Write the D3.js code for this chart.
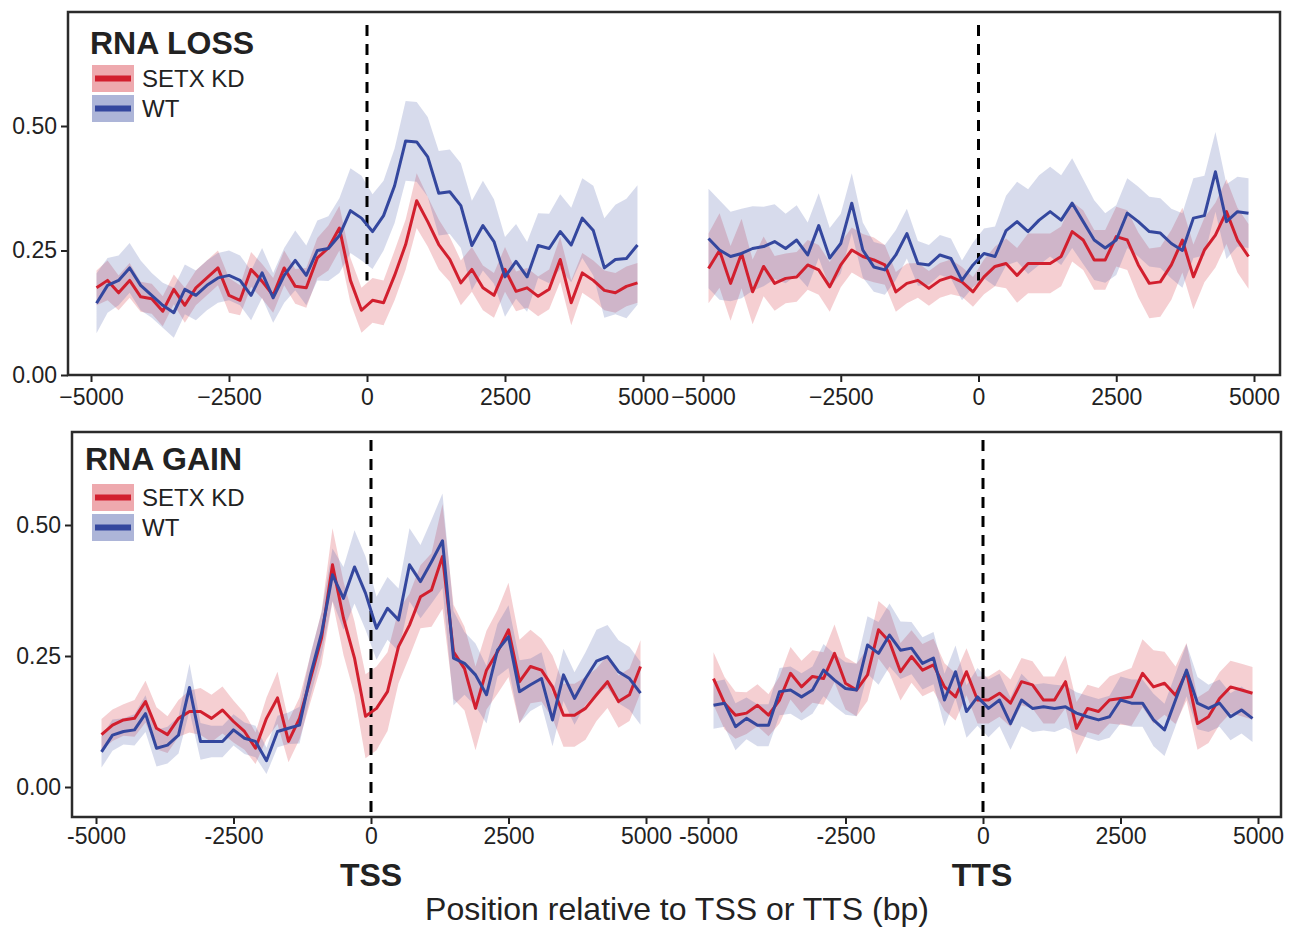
<!DOCTYPE html>
<html>
<head>
<meta charset="utf-8">
<script src="https://cdn.jsdelivr.net/npm/d3@7"></script>
<style>
  body { margin: 0; background: #fff; }
  svg { font-family: "Liberation Sans", Arial, sans-serif; }
</style>
</head>
<body>
<script>
// bin centres (bp) shared by every profile
const positions = [-4900, -4700, -4500, -4300, -4100, -3900, -3700, -3500, -3300, -3100,
  -2900, -2700, -2500, -2300, -2100, -1900, -1700, -1500, -1300, -1100,
  -900, -700, -500, -300, -100, 100, 300, 500, 700, 900,
  1100, 1300, 1500, 1700, 1900, 2100, 2300, 2500, 2700, 2900,
  3100, 3300, 3500, 3700, 3900, 4100, 4300, 4500, 4700, 4900];
const xTicks = [-5000, -2500, 0, 2500, 5000];
const yTicks = [0, 0.25, 0.5];
const seriesNames = ["SETX KD", "WT"];

// RNA LOSS, around TSS
const lossTssKd = [0.175, 0.19, 0.165, 0.19, 0.157, 0.153, 0.128, 0.172, 0.14, 0.175,
  0.195, 0.215, 0.16, 0.15, 0.212, 0.188, 0.16, 0.215, 0.178, 0.175,
  0.235, 0.255, 0.295, 0.19, 0.13, 0.15, 0.145, 0.2, 0.262, 0.35,
  0.308, 0.262, 0.232, 0.185, 0.212, 0.175, 0.16, 0.212, 0.168, 0.175,
  0.158, 0.172, 0.232, 0.145, 0.205, 0.19, 0.17, 0.165, 0.178, 0.185];
const lossTssKdErr = [0.035, 0.04, 0.035, 0.035, 0.03, 0.03, 0.03, 0.03, 0.035, 0.035,
  0.035, 0.035, 0.035, 0.03, 0.035, 0.035, 0.035, 0.035, 0.035, 0.04,
  0.04, 0.045, 0.045, 0.045, 0.045, 0.045, 0.045, 0.05, 0.05, 0.055,
  0.05, 0.05, 0.045, 0.045, 0.045, 0.045, 0.045, 0.045, 0.04, 0.04,
  0.04, 0.04, 0.045, 0.045, 0.04, 0.04, 0.04, 0.04, 0.04, 0.04];
const lossTssWt = [0.144, 0.18, 0.19, 0.215, 0.18, 0.16, 0.14, 0.125, 0.172, 0.16,
  0.18, 0.195, 0.2, 0.19, 0.16, 0.205, 0.155, 0.2, 0.23, 0.2,
  0.25, 0.254, 0.28, 0.33, 0.315, 0.288, 0.32, 0.38, 0.47, 0.468,
  0.438, 0.365, 0.368, 0.34, 0.26, 0.3, 0.268, 0.197, 0.228, 0.197,
  0.26, 0.254, 0.288, 0.261, 0.315, 0.29, 0.215, 0.232, 0.234, 0.261];
const lossTssWtErr = [0.06, 0.055, 0.05, 0.05, 0.05, 0.045, 0.045, 0.05, 0.05, 0.05,
  0.05, 0.05, 0.05, 0.05, 0.05, 0.05, 0.05, 0.055, 0.06, 0.06,
  0.06, 0.065, 0.075, 0.085, 0.085, 0.075, 0.07, 0.075, 0.08, 0.08,
  0.08, 0.085, 0.085, 0.085, 0.09, 0.09, 0.085, 0.08, 0.075, 0.07,
  0.065, 0.07, 0.075, 0.075, 0.08, 0.09, 0.1, 0.11, 0.12, 0.12];

// RNA LOSS, around TTS
const lossTtsKd = [0.214, 0.25, 0.184, 0.244, 0.167, 0.218, 0.184, 0.194, 0.197, 0.221,
  0.211, 0.177, 0.221, 0.251, 0.238, 0.231, 0.221, 0.167, 0.184, 0.19,
  0.174, 0.19, 0.197, 0.187, 0.167, 0.197, 0.218, 0.224, 0.2, 0.224,
  0.224, 0.224, 0.238, 0.288, 0.271, 0.231, 0.231, 0.278, 0.271, 0.221,
  0.184, 0.187, 0.221, 0.271, 0.197, 0.251, 0.281, 0.328, 0.271, 0.238];
const lossTtsKdErr = [0.07, 0.075, 0.075, 0.07, 0.065, 0.06, 0.055, 0.05, 0.05, 0.05,
  0.05, 0.05, 0.045, 0.045, 0.045, 0.045, 0.04, 0.04, 0.04, 0.035,
  0.035, 0.035, 0.035, 0.03, 0.03, 0.035, 0.04, 0.05, 0.055, 0.06,
  0.06, 0.06, 0.06, 0.06, 0.06, 0.06, 0.06, 0.06, 0.06, 0.065,
  0.07, 0.07, 0.07, 0.065, 0.065, 0.065, 0.065, 0.065, 0.065, 0.065];
const lossTtsWt = [0.274, 0.251, 0.238, 0.244, 0.254, 0.258, 0.268, 0.254, 0.271, 0.241,
  0.3, 0.235, 0.264, 0.345, 0.251, 0.217, 0.211, 0.241, 0.284, 0.224,
  0.221, 0.241, 0.234, 0.19, 0.221, 0.244, 0.238, 0.29, 0.308, 0.288,
  0.311, 0.328, 0.311, 0.345, 0.308, 0.271, 0.255, 0.271, 0.325, 0.308,
  0.288, 0.285, 0.264, 0.25, 0.315, 0.32, 0.408, 0.308, 0.328, 0.325];
const lossTtsWtErr = [0.1, 0.1, 0.09, 0.09, 0.085, 0.08, 0.075, 0.07, 0.07, 0.065,
  0.065, 0.06, 0.06, 0.06, 0.055, 0.05, 0.05, 0.05, 0.05, 0.045,
  0.04, 0.04, 0.04, 0.04, 0.045, 0.05, 0.06, 0.07, 0.08, 0.085,
  0.09, 0.09, 0.09, 0.09, 0.085, 0.08, 0.07, 0.07, 0.07, 0.07,
  0.07, 0.07, 0.07, 0.075, 0.08, 0.08, 0.08, 0.075, 0.07, 0.07];

// RNA GAIN, around TSS
const gainTssKd = [0.1, 0.118, 0.128, 0.131, 0.163, 0.112, 0.1, 0.131, 0.144, 0.144,
  0.131, 0.147, 0.125, 0.106, 0.074, 0.131, 0.17, 0.087, 0.131, 0.207,
  0.284, 0.424, 0.322, 0.246, 0.135, 0.15, 0.182, 0.268, 0.309, 0.363,
  0.376, 0.44, 0.258, 0.226, 0.15, 0.223, 0.258, 0.3, 0.201, 0.23,
  0.223, 0.191, 0.137, 0.137, 0.15, 0.176, 0.201, 0.163, 0.176, 0.23];
const gainTssKdErr = [0.03, 0.03, 0.03, 0.035, 0.04, 0.04, 0.035, 0.035, 0.04, 0.045,
  0.045, 0.045, 0.04, 0.035, 0.03, 0.04, 0.05, 0.04, 0.04, 0.045,
  0.05, 0.07, 0.07, 0.07, 0.08, 0.08, 0.075, 0.07, 0.06, 0.06,
  0.07, 0.1, 0.09, 0.08, 0.08, 0.075, 0.08, 0.09, 0.08, 0.07,
  0.06, 0.06, 0.06, 0.06, 0.06, 0.05, 0.05, 0.05, 0.05, 0.05];
const gainTssWt = [0.067, 0.099, 0.106, 0.109, 0.14, 0.074, 0.08, 0.099, 0.19, 0.087,
  0.087, 0.087, 0.109, 0.093, 0.087, 0.05, 0.106, 0.112, 0.118, 0.214,
  0.293, 0.405, 0.36, 0.42, 0.37, 0.303, 0.341, 0.319, 0.424, 0.392,
  0.43, 0.47, 0.246, 0.236, 0.214, 0.176, 0.261, 0.287, 0.182, 0.195,
  0.207, 0.128, 0.214, 0.169, 0.207, 0.24, 0.249, 0.22, 0.207, 0.179];
const gainTssWtErr = [0.03, 0.03, 0.025, 0.03, 0.035, 0.035, 0.035, 0.035, 0.045, 0.035,
  0.03, 0.03, 0.03, 0.03, 0.03, 0.025, 0.03, 0.03, 0.035, 0.04,
  0.04, 0.05, 0.06, 0.07, 0.07, 0.06, 0.06, 0.06, 0.07, 0.07,
  0.08, 0.09, 0.09, 0.06, 0.06, 0.055, 0.05, 0.06, 0.06, 0.05,
  0.05, 0.05, 0.05, 0.05, 0.05, 0.06, 0.06, 0.06, 0.06, 0.06];

// RNA GAIN, around TTS
const gainTtsKd = [0.207, 0.16, 0.137, 0.141, 0.156, 0.137, 0.166, 0.217, 0.191, 0.211,
  0.207, 0.255, 0.198, 0.185, 0.214, 0.3, 0.277, 0.22, 0.249, 0.223,
  0.233, 0.191, 0.172, 0.22, 0.166, 0.166, 0.179, 0.16, 0.201, 0.195,
  0.166, 0.166, 0.201, 0.112, 0.15, 0.144, 0.166, 0.169, 0.172, 0.217,
  0.191, 0.198, 0.175, 0.22, 0.121, 0.134, 0.169, 0.191, 0.185, 0.179];
const gainTtsKdErr = [0.05, 0.05, 0.045, 0.04, 0.04, 0.04, 0.045, 0.05, 0.05, 0.05,
  0.05, 0.055, 0.05, 0.05, 0.05, 0.055, 0.06, 0.055, 0.05, 0.05,
  0.05, 0.045, 0.045, 0.045, 0.045, 0.045, 0.045, 0.045, 0.045, 0.045,
  0.045, 0.045, 0.05, 0.05, 0.045, 0.045, 0.045, 0.05, 0.055, 0.065,
  0.07, 0.06, 0.055, 0.055, 0.05, 0.05, 0.05, 0.05, 0.05, 0.05];
const gainTtsWt = [0.156, 0.16, 0.115, 0.131, 0.118, 0.118, 0.182, 0.185, 0.172, 0.185,
  0.223, 0.204, 0.188, 0.185, 0.271, 0.255, 0.29, 0.261, 0.265, 0.236,
  0.246, 0.166, 0.22, 0.144, 0.172, 0.15, 0.166, 0.121, 0.166, 0.15,
  0.153, 0.15, 0.153, 0.141, 0.134, 0.128, 0.134, 0.166, 0.16, 0.16,
  0.128, 0.109, 0.166, 0.223, 0.16, 0.15, 0.16, 0.134, 0.147, 0.131];
const gainTtsWtErr = [0.045, 0.045, 0.045, 0.04, 0.04, 0.04, 0.045, 0.045, 0.045, 0.045,
  0.05, 0.05, 0.05, 0.05, 0.055, 0.06, 0.06, 0.055, 0.05, 0.05,
  0.05, 0.05, 0.05, 0.05, 0.055, 0.055, 0.05, 0.05, 0.05, 0.045,
  0.045, 0.045, 0.04, 0.04, 0.04, 0.04, 0.04, 0.045, 0.045, 0.045,
  0.05, 0.05, 0.05, 0.05, 0.05, 0.045, 0.045, 0.045, 0.045, 0.045];

const W = 1299, H = 929;
const lineCol = ["#d21f2e", "#34479e"];
const bandCol = ["#d9404c", "#4a5aa8"];
const ink = "#222";

const svg = d3.select("body").append("svg")
    .attr("width", W)
    .attr("height", H);

//panel layout, the data arrays are only referenced here
const panels = [
  { title: "RNA LOSS", left: 68, right: 1280, top: 12, bottom: 375,
    yRange: [375, 126], tss: [91, 643], tts: [703, 1254], dashTop: 25, dashEnd: 0.19,
    minus: "\u2212", titleX: 90, titleY: 54, legY: 65, labPad: 7,
    segs: [[lossTssKd, lossTssKdErr, lossTssWt, lossTssWtErr],
           [lossTtsKd, lossTtsKdErr, lossTtsWt, lossTtsWtErr]] },
  { title: "RNA GAIN", left: 72, right: 1281, top: 432, bottom: 817,
    yRange: [787, 525], tss: [96, 646], tts: [708, 1258], dashTop: 440, dashEnd: null,
    minus: "-", titleX: 85, titleY: 470, legY: 484, labPad: 4,
    segs: [[gainTssKd, gainTssKdErr, gainTssWt, gainTssWtErr],
           [gainTtsKd, gainTtsKdErr, gainTtsWt, gainTtsWtErr]] }
];

panels.forEach(function (p) {
  const g = svg.append("g");
  const y = d3.scaleLinear().domain([0, 0.5]).range(p.yRange);
  const xs = [d3.scaleLinear().domain([-5000, 5000]).range(p.tss),
              d3.scaleLinear().domain([-5000, 5000]).range(p.tts)];

  xs.forEach(function (x, si) {
    const seg = p.segs[si];
    const series = [0, 1].map(function (k) {
      return positions.map(function (bp, i) {
        return { bp: bp, v: seg[2 * k][i], e: seg[2 * k + 1][i] };
      });
    });
    const area = d3.area()
        .x(function (d) { return x(d.bp); })
        .y0(function (d) { return y(d.v - d.e); })
        .y1(function (d) { return y(d.v + d.e); });
    const line = d3.line()
        .x(function (d) { return x(d.bp); })
        .y(function (d) { return y(d.v); });

    g.selectAll(null).data(series).enter().append("path")
        .attr("d", area)
        .attr("fill", function (d, k) { return bandCol[k]; })
        .attr("fill-opacity", function (d, k) { return k ? 0.22 : 0.25; })
        .attr("stroke", "none");

    // dashed marker at TSS / TTS
    g.append("line")
        .attr("x1", x(0)).attr("x2", x(0))
        .attr("y1", p.dashTop)
        .attr("y2", p.dashEnd === null ? p.bottom : y(p.dashEnd))
        .attr("stroke", "#000")
        .attr("stroke-width", 3)
        .attr("stroke-dasharray", "11,8");

    g.selectAll(null).data(series).enter().append("path")
        .attr("d", line)
        .attr("fill", "none")
        .attr("stroke", function (d, k) { return lineCol[k]; })
        .attr("stroke-width", 3)
        .attr("stroke-linejoin", "round");

    const ax = g.append("g")
        .attr("transform", "translate(0," + p.bottom + ")")
        .call(d3.axisBottom(x).tickValues(xTicks).tickSize(7).tickSizeOuter(0)
          .tickPadding(p.labPad)
          .tickFormat(function (d) { return d < 0 ? p.minus + Math.abs(d) : String(d); }));
    ax.select(".domain").remove();
    ax.selectAll("line").attr("stroke", ink).attr("stroke-width", 2);
    ax.selectAll("text").attr("fill", ink).style("font-size", "23px")
        .style("font-family", "'Liberation Sans', Arial, sans-serif");
  });

  const ay = g.append("g")
      .attr("transform", "translate(" + p.left + ",0)")
      .call(d3.axisLeft(y).tickValues(yTicks).tickSize(7).tickPadding(4)
        .tickFormat(d3.format(".2f")));
  ay.select(".domain").remove();
  ay.selectAll("line").attr("stroke", ink).attr("stroke-width", 2);
  ay.selectAll("text").attr("fill", ink).style("font-size", "23px")
      .style("font-family", "'Liberation Sans', Arial, sans-serif");

  // panel frame
  g.append("rect")
      .attr("x", p.left).attr("y", p.top)
      .attr("width", p.right - p.left).attr("height", p.bottom - p.top)
      .attr("fill", "none")
      .attr("stroke", "#2b2b2b")
      .attr("stroke-width", 2.5);

  g.append("text")
      .attr("x", p.titleX).attr("y", p.titleY)
      .attr("fill", ink)
      .style("font-size", "32px").style("font-weight", "bold")
      .text(p.title);

  // legend
  const leg = g.selectAll(null).data(seriesNames).enter().append("g")
      .attr("transform", function (d, k) { return "translate(92," + (p.legY + k * 30) + ")"; });
  leg.append("rect")
      .attr("width", 42).attr("height", 27)
      .attr("fill", function (d, k) { return bandCol[k]; })
      .attr("fill-opacity", 0.45);
  leg.append("line")
      .attr("x1", 3).attr("x2", 39).attr("y1", 13.5).attr("y2", 13.5)
      .attr("stroke", function (d, k) { return lineCol[k]; })
      .attr("stroke-width", 6);
  leg.append("text")
      .attr("x", 50).attr("y", 22)
      .attr("fill", ink)
      .style("font-size", "24px")
      .text(function (d) { return d; });
});

// shared x labels under the lower panel
svg.append("text")
    .attr("x", 371).attr("y", 886)
    .attr("text-anchor", "middle")
    .attr("fill", ink)
    .style("font-size", "32px").style("font-weight", "bold")
    .text("TSS");
svg.append("text")
    .attr("x", 982).attr("y", 886)
    .attr("text-anchor", "middle")
    .attr("fill", ink)
    .style("font-size", "32px").style("font-weight", "bold")
    .text("TTS");
svg.append("text")
    .attr("x", 677).attr("y", 920)
    .attr("text-anchor", "middle")
    .attr("fill", ink)
    .style("font-size", "32px")
    .text("Position relative to TSS or TTS (bp)");
</script>
</body>
</html>
